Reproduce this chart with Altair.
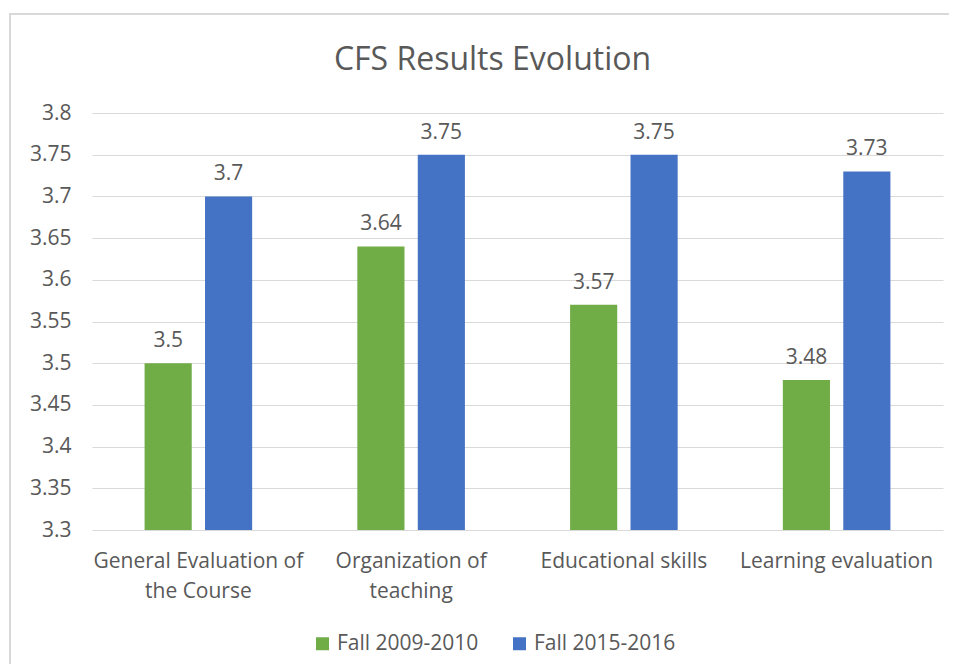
import altair as alt
import pandas as pd

categories = ["General Evaluation of the Course", "Organization of teaching",
              "Educational skills", "Learning evaluation"]
series = ["Fall 2009-2010", "Fall 2015-2016"]
fall_2009 = [3.5, 3.64, 3.57, 3.48]
fall_2015 = [3.7, 3.75, 3.75, 3.73]
y_ticks = [3.3, 3.35, 3.4, 3.45, 3.5, 3.55, 3.6, 3.65, 3.7, 3.75, 3.8]
colors = ["#70AD47", "#4472C4"]

rows = []
for c, a, b in zip(categories, fall_2009, fall_2015):
    rows.append({"category": c, "series": series[0], "value": a})
    rows.append({"category": c, "series": series[1], "value": b})
df = pd.DataFrame(rows)

FONT = "Open Sans"
GRAY = "#595959"
FS = 21

label_expr = ("datum.label == 'General Evaluation of the Course' ? ['General Evaluation of', 'the Course'] : "
              "datum.label == 'Organization of teaching' ? ['Organization of', 'teaching'] : datum.label")

x = alt.X("category:N", sort=categories, title=None,
          scale=alt.Scale(paddingInner=0, paddingOuter=0),
          axis=alt.Axis(labelAngle=0, labelExpr=label_expr, labelFontSize=FS, labelColor=GRAY,
                        labelFont=FONT, labelPadding=20, labelLineHeight=30, ticks=False,
                        domain=False, labelBaseline="top", labelLimit=400))
xo = alt.XOffset("series:N", sort=series,
                 scale=alt.Scale(paddingInner=0.22, paddingOuter=0.87))
y = alt.Y("value:Q", title=None,
          scale=alt.Scale(domain=[3.3, 3.8], zero=False, nice=False),
          axis=alt.Axis(values=y_ticks, labelExpr="format(datum.value, '.2~f')",
                        labelFontSize=FS, labelColor=GRAY, labelFont=FONT, labelPadding=21,
                        ticks=False, domain=False, grid=True, gridColor="#D9D9D9", gridWidth=1))

base = alt.Chart(df)

bars = base.mark_bar(clip=True).encode(
    x=x, xOffset=xo, y=y,
    color=alt.Color("series:N", sort=series,
                    scale=alt.Scale(domain=series, range=colors),
                    legend=alt.Legend(title=None, orient="none", legendX=220, legendY=520,
                                      direction="horizontal", symbolType="square",
                                      symbolSize=169, symbolStrokeWidth=0,
                                      labelFontSize=FS, labelColor=GRAY, labelFont=FONT,
                                      columnPadding=30, labelOffset=4))
)

texts = base.mark_text(baseline="bottom", dy=-12, fontSize=FS, color=GRAY, font=FONT).encode(
    x=x, xOffset=xo, y=y,
    text=alt.Text("value:Q", format=".2~f")
)

frame = alt.Chart(pd.DataFrame({"k": [0]})).mark_rect(
    fill=None, stroke="#D9D9D9", strokeWidth=2
).encode(x=alt.value(-82), x2=alt.value(900), y=alt.value(-99), y2=alt.value(600))

chart = alt.layer(frame, bars, texts).properties(
    width=851, height=417,
    title=alt.Title("CFS Results Evolution", fontSize=32, font=FONT, color=GRAY,
                    fontWeight="normal", offset=-64, frame="group", dx=-25),
    autosize=alt.AutoSizeParams(type="none"),
    padding={"left": 84, "top": 105, "right": 6, "bottom": 134},
).configure_view(stroke=None)

chart.save("out.html", embed_options={"renderer": "svg", "actions": False})
